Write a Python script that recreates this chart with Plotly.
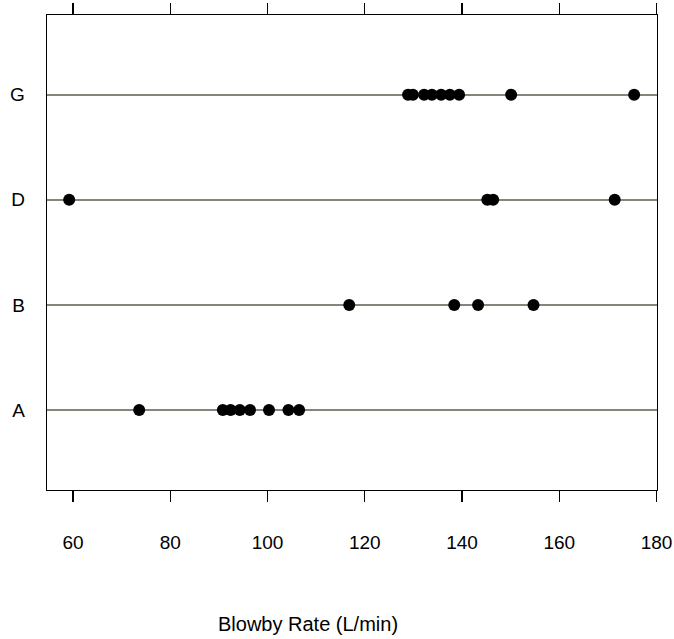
import plotly.graph_objects as go

categories = ["A", "B", "D", "G"]
rate_A = [73.6, 90.8, 92.4, 94.3, 96.4, 100.3, 104.3, 106.5]
rate_B = [116.8, 138.4, 143.3, 154.7]
rate_D = [59.2, 145.2, 146.4, 171.4]
rate_G = [128.9, 129.9, 132.2, 133.8, 135.7, 137.5, 139.4, 150.1, 175.4]
x_ticks = [60, 80, 100, 120, 140, 160, 180]
x_title = "Blowby Rate (L/min)"

groups = {"A": rate_A, "B": rate_B, "D": rate_D, "G": rate_G}

fig = go.Figure()
for cat in categories:
    vals = groups[cat]
    fig.add_trace(go.Scatter(
        x=vals, y=[cat] * len(vals), mode="markers",
        marker=dict(color="black", size=12, line=dict(width=0)),
        showlegend=False, cliponaxis=False, hoverinfo="skip",
    ))

FONT = "Liberation Sans, Arial, sans-serif"
fig.update_layout(
    width=674, height=639,
    margin=dict(l=47, r=17, t=15, b=149, autoexpand=False),
    paper_bgcolor="white", plot_bgcolor="white",
    font=dict(family=FONT, color="black"),
    xaxis=dict(
        range=[54.64, 180.1], tickvals=x_ticks, ticktext=[str(v) for v in x_ticks],
        showgrid=False, zeroline=False, showline=True, linecolor="black", linewidth=1.3,
        mirror="ticks", ticks="outside", ticklen=11, tickcolor="black", tickwidth=1.3,
        tickfont=dict(size=19, family=FONT, color="black"), ticklabelstandoff=24,
        automargin=False,
    ),
    yaxis=dict(
        type="category", categoryorder="array", categoryarray=categories,
        range=[-0.76, 3.758], showgrid=True, gridcolor="#85857a", gridwidth=2,
        zeroline=False, showline=True, linecolor="black", linewidth=1.3, mirror=True,
        ticks="", tickfont=dict(size=19, family=FONT, color="black"), ticklabelstandoff=17,
        automargin=False,
    ),
    annotations=[dict(
        text=x_title, xref="paper", yref="paper", x=0.428, y=-0.282,
        xanchor="center", yanchor="middle", showarrow=False,
        font=dict(size=20, family=FONT, color="black"),
    )],
)

fig.write_html(
    "out.html",
    config={"displayModeBar": False, "staticPlot": True},
    post_script="document.body.style.margin='0';document.body.style.overflow='hidden';",
)
